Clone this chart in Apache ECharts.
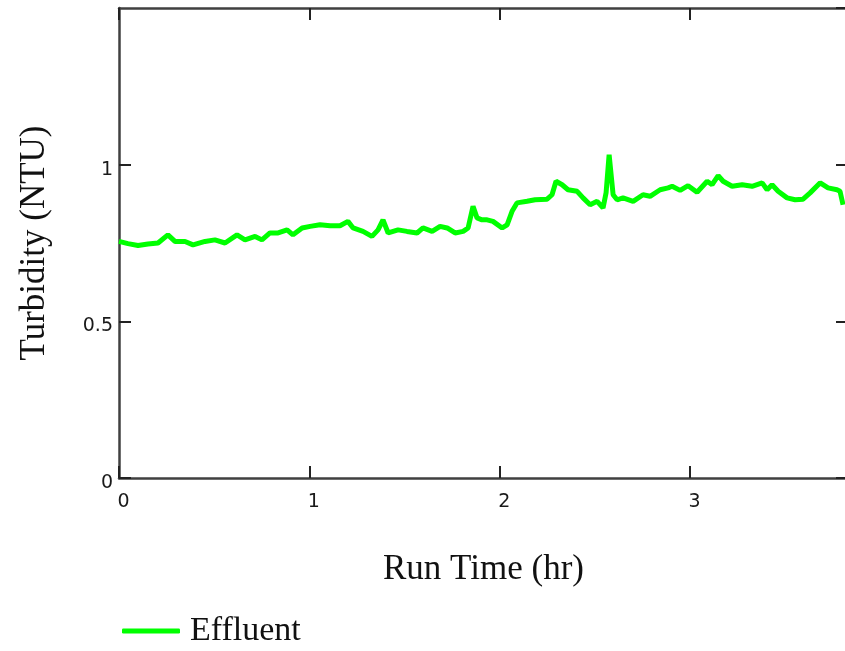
<!DOCTYPE html>
<html>
<head>
<meta charset="utf-8">
<script src="https://cdn.jsdelivr.net/npm/echarts@6/dist/echarts.min.js"></script>
<style>
    html, body {
        margin: 0;
        padding: 0;
        background: #fff;
        overflow: hidden;
    }

    #turbidity {
        width: 860px;
        height: 651px;
    }
</style>
</head>
<body>
<div id="turbidity"></div>
<script>
    // run time (hr) and effluent turbidity (NTU)
    const runTime = [
        0, 0.047, 0.100, 0.152, 0.205, 0.257, 0.294, 0.347, 0.389, 0.452,
        0.504, 0.557, 0.620, 0.662, 0.715, 0.751, 0.793, 0.836, 0.883, 0.914,
        0.962, 1.004, 1.056, 1.109, 1.161, 1.203, 1.230, 1.282, 1.329, 1.361,
        1.387, 1.414, 1.466, 1.513, 1.566, 1.597, 1.645, 1.687, 1.724, 1.766,
        1.808, 1.834, 1.860, 1.881, 1.907, 1.934, 1.965, 2.013, 2.039, 2.065,
        2.091, 2.144, 2.186, 2.249, 2.275, 2.296, 2.328, 2.359, 2.407, 2.438,
        2.475, 2.512, 2.543, 2.559, 2.575, 2.596, 2.617, 2.648, 2.701, 2.753,
        2.790, 2.843, 2.885, 2.906, 2.948, 2.990, 3.037, 3.090, 3.116, 3.148,
        3.174, 3.221, 3.274, 3.326, 3.379, 3.405, 3.431, 3.463, 3.510, 3.552,
        3.594, 3.631, 3.684, 3.725, 3.772, 3.788, 3.804
    ];
    const effluent = [
        0.755, 0.748, 0.742, 0.747, 0.750, 0.776, 0.755, 0.755, 0.744, 0.755,
        0.760, 0.750, 0.776, 0.760, 0.771, 0.760, 0.782, 0.782, 0.792, 0.776,
        0.798, 0.803, 0.808, 0.805, 0.805, 0.819, 0.798, 0.787, 0.771, 0.792,
        0.824, 0.782, 0.792, 0.787, 0.782, 0.798, 0.787, 0.803, 0.798, 0.782,
        0.787, 0.798, 0.867, 0.830, 0.824, 0.824, 0.819, 0.798, 0.808, 0.851,
        0.878, 0.883, 0.888, 0.890, 0.904, 0.947, 0.936, 0.920, 0.915, 0.894,
        0.872, 0.883, 0.862, 0.910, 1.032, 0.904, 0.888, 0.894, 0.883, 0.904,
        0.899, 0.920, 0.926, 0.931, 0.918, 0.933, 0.912, 0.947, 0.936, 0.965,
        0.947, 0.931, 0.936, 0.931, 0.942, 0.920, 0.936, 0.915, 0.894, 0.888,
        0.890, 0.910, 0.942, 0.926, 0.920, 0.915, 0.872
    ];
    const xTicks = [0, 1, 2, 3];
    const yTicks = [0, 0.5, 1];

    const frame = {onZero: false, lineStyle: {color: '#404040', width: 2.5}};
    const inTicks = {inside: true, length: 12, lineStyle: {color: '#222', width: 2}};
    const tickFont = {fontFamily: 'DejaVu Sans', fontSize: 19, color: '#1a1a1a'};

    const chart = echarts.init(document.getElementById('turbidity'));
    chart.setOption({
        animation: false,
        grid: {
            left: 119,
            top: 8,
            width: 729,
            height: 470,
            containLabel: false,
            outerBoundsMode: 'none'
        },
        legend: {
            left: 117,
            top: 609,
            icon: 'roundRect',
            itemWidth: 58,
            itemHeight: 5,
            textStyle: {
                fontFamily: 'Liberation Serif',
                fontSize: 34,
                color: '#111',
                padding: [0, 0, 0, 5]
            },
            data: ['Effluent']
        },
        xAxis: [
            {
                type: 'value',
                min: 0,
                max: 3.83,
                interval: 1,
                name: 'Run Time (hr)',
                nameLocation: 'middle',
                nameGap: 74,
                nameTextStyle: {fontFamily: 'Liberation Serif', fontSize: 35, color: '#111'},
                axisLine: frame,
                axisTick: inTicks,
                splitLine: {show: false},
                axisLabel: Object.assign({
                    margin: 15,
                    padding: [0, 0, 0, 9],
                    showMaxLabel: false,
                    formatter: v => xTicks.includes(v) ? String(v) : ''
                }, tickFont)
            },
            {
                type: 'value',
                position: 'top',
                min: 0,
                max: 3.83,
                interval: 1,
                axisLine: frame,
                axisTick: inTicks,
                splitLine: {show: false},
                axisLabel: {show: false}
            }
        ],
        yAxis: [
            {
                type: 'value',
                min: 0,
                max: 1.5,
                interval: 0.5,
                name: 'Turbidity (NTU)',
                nameLocation: 'middle',
                nameGap: 67,
                nameTextStyle: {fontFamily: 'Liberation Serif', fontSize: 35, color: '#111'},
                axisLine: frame,
                axisTick: inTicks,
                splitLine: {show: false},
                axisLabel: Object.assign({
                    margin: 6,
                    verticalAlign: 'top',
                    lineHeight: 10,
                    showMaxLabel: false,
                    formatter: v => yTicks.includes(v) ? String(v) : ''
                }, tickFont)
            },
            {
                type: 'value',
                position: 'right',
                min: 0,
                max: 1.5,
                interval: 0.5,
                axisLine: frame,
                axisTick: inTicks,
                splitLine: {show: false},
                axisLabel: {show: false}
            }
        ],
        series: [
            {
                name: 'Effluent',
                type: 'line',
                showSymbol: false,
                symbol: 'none',
                lineStyle: {color: '#00ff00', width: 5},
                itemStyle: {color: '#00ff00'},
                data: runTime.map((t, i) => [t, effluent[i]])
            }
        ]
    });
</script>
</body>
</html>
